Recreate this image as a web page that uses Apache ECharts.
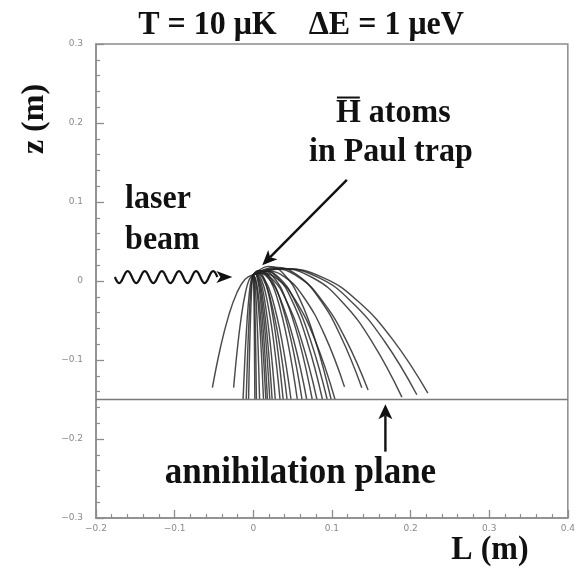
<!DOCTYPE html>
<html><head><meta charset="utf-8">
<script src="https://cdn.jsdelivr.net/npm/echarts@6/dist/echarts.min.js"></script>
<style>html,body{margin:0;padding:0;background:#fff}#c{width:578px;height:569px}</style>
</head><body><div id="c"></div>
<script>
// ---- axis ranges / ticks ----
const xRange = [-0.2, 0.4];
const zRange = [-0.3, 0.3];
const tickStep = 0.1;
const annihilationZ = -0.15;

// ---- trajectories: [L (m), z (m)] ----
const leftTrajectories = [
  [[0,0.008],[-0.0104,0.0023],[-0.0208,-0.0149],[-0.0312,-0.0435],[-0.0416,-0.0835],[-0.052,-0.135]],
  [[0,0.008],[-0.005,0.0023],[-0.010,-0.0149],[-0.015,-0.0435],[-0.020,-0.0835],[-0.025,-0.135]]
];
const steepTrajectories = [
  [[0,0.008],[-0.0026,0.0017],[-0.0052,-0.0173],[-0.0078,-0.0489],[-0.0104,-0.0931],[-0.013,-0.15]],
  [[0,0.008],[-0.0018,0.0017],[-0.0036,-0.0173],[-0.0054,-0.0489],[-0.0072,-0.0931],[-0.009,-0.15]],
  [[0,0.008],[-0.0012,0.0017],[-0.0024,-0.0173],[-0.0036,-0.0489],[-0.0048,-0.0931],[-0.006,-0.15]],
  [[0,0.008],[0.0004,0.0017],[0.0008,-0.0173],[0.0012,-0.0489],[0.0016,-0.0931],[0.002,-0.15]],
  [[0,0.008],[0.0008,0.0017],[0.0016,-0.0173],[0.0024,-0.0489],[0.0032,-0.0931],[0.004,-0.15]],
  [[0,0.008],[0.0016,0.0017],[0.0032,-0.0173],[0.0048,-0.0489],[0.0064,-0.0931],[0.008,-0.15]],
  [[0,0.008],[0.0026,0.0017],[0.0052,-0.0173],[0.0078,-0.0489],[0.0104,-0.0931],[0.013,-0.15]],
  [[0,0.008],[0.0032,0.0017],[0.0064,-0.0173],[0.0096,-0.0489],[0.0128,-0.0931],[0.016,-0.15]]
];
const coreTrajectories = [
  [[0,0.008],[0.0018,0.010],[0.0054,0.0021],[0.009,-0.0216],[0.0135,-0.0734],[0.018,-0.15]],
  [[0,0.008],[0.0021,0.010],[0.0063,0.0021],[0.0105,-0.0216],[0.0158,-0.0734],[0.021,-0.15]],
  [[0,0.008],[0.0024,0.010],[0.0072,0.0021],[0.012,-0.0216],[0.018,-0.0734],[0.024,-0.15]],
  [[0,0.008],[0.0028,0.010],[0.0084,0.0021],[0.014,-0.0216],[0.021,-0.0734],[0.028,-0.15]],
  [[0,0.008],[0.0034,0.010],[0.0102,0.0021],[0.017,-0.0216],[0.0255,-0.0734],[0.034,-0.15]],
  [[0,0.008],[0.0043,0.010],[0.0129,0.0021],[0.0215,-0.0216],[0.0323,-0.0734],[0.043,-0.15]],
  [[0,0.008],[0.0048,0.010],[0.0144,0.0021],[0.024,-0.0216],[0.036,-0.0734],[0.048,-0.15]],
  [[0,0.008],[0.0068,0.010],[0.0204,0.0021],[0.034,-0.0216],[0.051,-0.0734],[0.068,-0.15]],
  [[0,0.008],[0.0081,0.010],[0.0243,0.0021],[0.0405,-0.0216],[0.0608,-0.0734],[0.081,-0.15]],
  [[0,0.008],[0.0104,0.010],[0.0312,0.0021],[0.052,-0.0216],[0.078,-0.0734],[0.104,-0.15]],
  [[0,0.008],[0.0057,0.0131],[0.0133,0.0041],[0.0209,-0.023],[0.0296,-0.0765],[0.038,-0.15]],
  [[0,0.008],[0.0084,0.0131],[0.0196,0.0041],[0.0308,-0.023],[0.0437,-0.0765],[0.056,-0.15]],
  [[0,0.008],[0.0093,0.0131],[0.0217,0.0041],[0.0341,-0.023],[0.0484,-0.0765],[0.062,-0.15]],
  [[0,0.008],[0.0113,0.0131],[0.0263,0.0041],[0.0413,-0.023],[0.0585,-0.0765],[0.075,-0.15]],
  [[0,0.008],[0.0132,0.0131],[0.0308,0.0041],[0.0484,-0.023],[0.0686,-0.0765],[0.088,-0.15]],
  [[0,0.008],[0.0141,0.0131],[0.0329,0.0041],[0.0517,-0.023],[0.0733,-0.0765],[0.094,-0.15]],
  [[0,0.008],[0.0198,0.0185],[0.0396,0.008],[0.0594,-0.0236],[0.0792,-0.0763],[0.099,-0.15]]
];
const wideTrajectories = [
  [[0,0.008],[0.0174,0.0126],[0.0406,0.0045],[0.0638,-0.0199],[0.0905,-0.0679],[0.116,-0.134]],
  [[0,0.008],[0.0276,0.0175],[0.0552,0.008],[0.0828,-0.0206],[0.1104,-0.0683],[0.138,-0.135]],
  [[0,0.008],[0.0263,0.0154],[0.0584,0.0044],[0.0876,-0.0248],[0.1168,-0.0723],[0.146,-0.138]],
  [[0,0.008],[0.034,0.0158],[0.0756,0.0041],[0.1134,-0.0269],[0.1512,-0.0773],[0.189,-0.147]],
  [[0,0.008],[0.0374,0.0157],[0.0832,0.0042],[0.1248,-0.0262],[0.1664,-0.0756],[0.208,-0.144]],
  [[0,0.008],[0.04,0.0156],[0.0888,0.0043],[0.1332,-0.0257],[0.1776,-0.0745],[0.222,-0.142]]
];

// ---- annotation anchors in data coordinates ----
const labelHAtoms = [0.178, 0.212];
const labelPaulTrap = [0.175, 0.163];
const paulArrow = [[0.119, 0.128], [0.0114, 0.020]];
const labelLaser = [-0.163, 0.104];
const labelBeam = [-0.163, 0.052];
const laserWave = [[-0.176, 0.005], [-0.0456, 0.005], [-0.0266, 0.005]];
const planeArrow = [[0.168, -0.216], [0.168, -0.156]];
const labelPlane = [0.06, -0.243];

const SERIF = '"Liberation Serif", "DejaVu Serif", serif';
const trajColor = 'rgba(35,35,35,0.82)';
const chart = echarts.init(document.getElementById('c'), null, {renderer: 'canvas'});

const allTraj = [].concat(leftTrajectories, steepTrajectories, coreTrajectories, wideTrajectories);
const series = allTraj.map(t => ({
  type: 'line', data: t, smooth: 0.45, symbol: 'none', silent: true,
  lineStyle: {color: trajColor, width: 1.45}, z: 2
}));
series.push({
  type: 'line', data: [[xRange[0], annihilationZ], [xRange[1], annihilationZ]],
  symbol: 'none', silent: true, lineStyle: {color: '#7a7a7a', width: 1.6}, z: 3
});

const fmt = v => {
  const s = (Math.round(v * 10) / 10).toString();
  return s.replace('-', '\u2212');
};
const axisCommon = {
  type: 'value', interval: tickStep,
  axisLine: {show: true, onZero: false, lineStyle: {color: '#8c8c8c', width: 1.5}},
  axisTick: {show: true, inside: true, length: 8, lineStyle: {color: '#8c8c8c', width: 1.3}},
  minorTick: {show: true, splitNumber: 5, length: 4, lineStyle: {color: '#8c8c8c', width: 1.2}},
  splitLine: {show: false},
  axisLabel: {color: '#8a8a8a', fontSize: 9, fontFamily: 'DejaVu Sans', formatter: fmt}
};

chart.setOption({
  animation: false,
  backgroundColor: '#fff',
  grid: {left: 96, right: 8, top: 44, bottom: 51, show: true, borderColor: '#8c8c8c', borderWidth: 1.5},
  xAxis: Object.assign({}, axisCommon, {min: xRange[0], max: xRange[1],
    axisLabel: Object.assign({}, axisCommon.axisLabel, {margin: 6})}),
  yAxis: Object.assign({}, axisCommon, {min: zRange[0], max: zRange[1],
    axisLabel: Object.assign({}, axisCommon.axisLabel, {margin: 13})}),
  series: series
});

// ---- annotations ----
const P = p => chart.convertToPixel({gridIndex: 0}, p);
const font = 'bold 32px ' + SERIF;
const stretch = 1.08;
function txt(x, y, text, align, f, rot) {
  return {
    type: 'text', z: 10, silent: true, x: x, y: y,
    scaleX: 1, scaleY: rot ? 1 : stretch, rotation: rot || 0,
    style: {x: 0, y: 0, text: text, font: f || font, fill: '#111',
      align: align, verticalAlign: 'middle', textAlign: align, textVerticalAlign: 'middle'}
  };
}
function arrow(S, T, len, hw, width) {
  const dx = T[0] - S[0], dy = T[1] - S[1];
  const d = Math.hypot(dx, dy), ux = dx / d, uy = dy / d;
  const bx = T[0] - ux * len, by = T[1] - uy * len;
  const nx = T[0] - ux * len * 0.75, ny = T[1] - uy * len * 0.75;
  return [
    {type: 'line', z: 10, silent: true, shape: {x1: S[0], y1: S[1], x2: nx, y2: ny},
      style: {stroke: '#111', lineWidth: width}},
    {type: 'polygon', z: 10, silent: true,
      shape: {points: [T, [bx - uy * hw, by + ux * hw], [nx, ny], [bx + uy * hw, by - ux * hw]]},
      style: {fill: '#111'}}
  ];
}

const g = [];
// title & axis names
g.push(txt(301, 25, 'T = 10 \u03bcK    \u0394E = 1 \u03bceV', 'center'));
g.push(txt(490, 550, 'L (m)', 'center'));
g.push(txt(35, 119, 'z (m)', 'center', font, Math.PI / 2));

// H-bar atoms with overbar on H
const meas = document.createElement('canvas').getContext('2d');
meas.font = font;
const hText = 'H atoms';
const wAll = meas.measureText(hText).width, wH = meas.measureText('H').width;
const ha = P(labelHAtoms);
g.push(txt(ha[0], ha[1], hText, 'center'));
const hLeft = ha[0] - wAll / 2;
g.push({type: 'line', z: 10, silent: true,
  shape: {x1: hLeft + 1, y1: ha[1] - 16, x2: hLeft + wH - 1, y2: ha[1] - 16},
  style: {stroke: '#111', lineWidth: 2}});

const pt = P(labelPaulTrap);
g.push(txt(pt[0], pt[1], 'in Paul trap', 'center'));
g.push.apply(g, arrow(P(paulArrow[0]), P(paulArrow[1]), 15, 6.5, 2.4));

const la = P(labelLaser), be = P(labelBeam);
g.push(txt(la[0], la[1], 'laser', 'left'));
g.push(txt(be[0], be[1], 'beam', 'left'));

// wavy laser beam (decoration)
const w0 = P(laserWave[0]), w1 = P(laserWave[1]), wt = P(laserWave[2]);
const wavePts = [];
const periods = 6, steps = 120;
for (let i = 0; i <= steps; i++) {
  const f = i / steps;
  wavePts.push([w0[0] + (w1[0] - w0[0]) * f, w0[1] + 6 * Math.sin(f * periods * 2 * Math.PI)]);
}
g.push({type: 'polyline', z: 10, silent: true, shape: {points: wavePts},
  style: {stroke: '#111', lineWidth: 2.2, fill: null}});
g.push({type: 'polygon', z: 10, silent: true,
  shape: {points: [wt, [w1[0] - 1, wt[1] - 6], [w1[0] + 3, wt[1]], [w1[0] - 1, wt[1] + 6]]},
  style: {fill: '#111'}});

// annihilation plane arrow and label
g.push.apply(g, arrow(P(planeArrow[0]), P(planeArrow[1]), 15, 7, 2.4));
const lp = P(labelPlane);
g.push(txt(lp[0], lp[1], 'annihilation plane', 'center', 'bold 35px ' + SERIF));

chart.setOption({graphic: {elements: g}});
</script>
</body></html>
